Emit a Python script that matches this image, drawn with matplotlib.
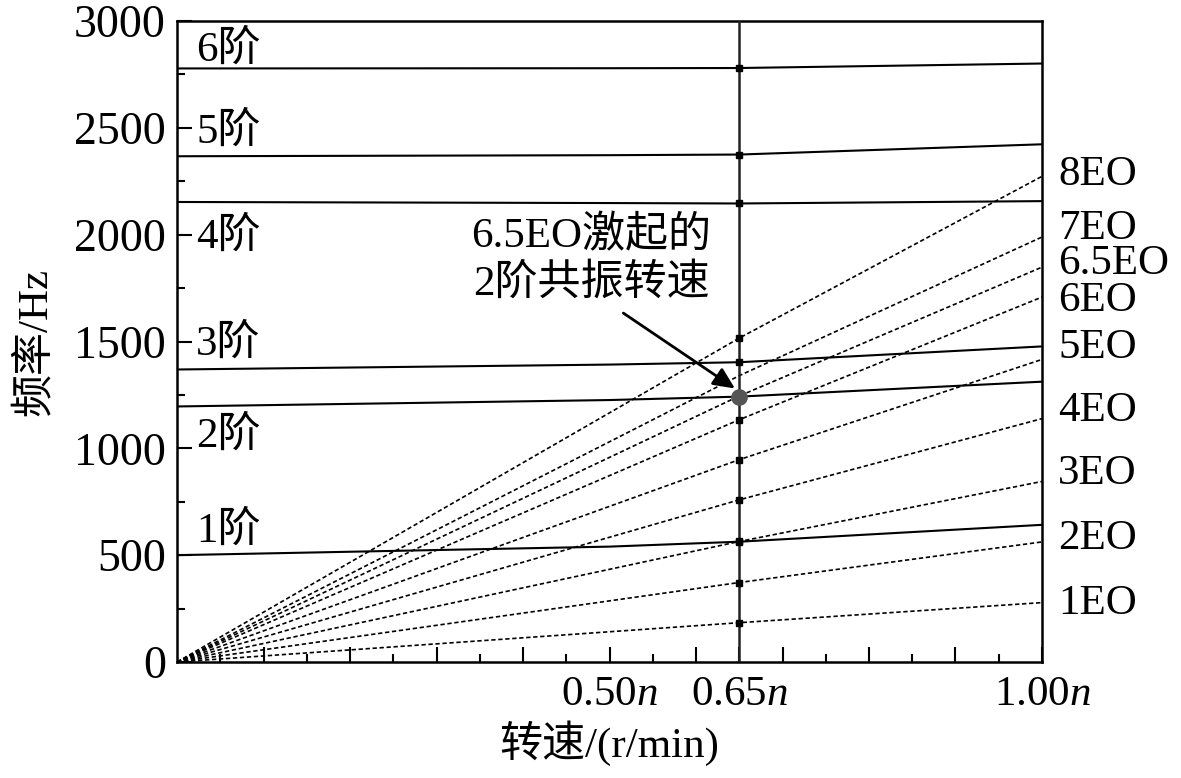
import matplotlib
matplotlib.use("Agg")
import matplotlib.pyplot as plt
import numpy as np

plt.rcParams['font.family'] = ['Liberation Serif', 'Noto Sans CJK SC']
plt.rcParams['mathtext.fontset'] = 'custom'
plt.rcParams['mathtext.rm'] = 'Liberation Serif'
plt.rcParams['mathtext.it'] = 'Liberation Serif:italic'
plt.rcParams['axes.unicode_minus'] = False

# ---------------- data ----------------
# relative speed (fraction of n) where mode frequencies were read
mode_x = [0.0, 0.5, 0.65, 1.0]
mode1 = [500, 540, 563, 642]
mode2 = [1196, 1226, 1242, 1312]
mode3 = [1369, 1392, 1403, 1477]
mode4 = [2153, 2148, 2146, 2157]
mode5 = [2367, 2372, 2375, 2423]
mode6 = [2778, 2779, 2780, 2801]
mode_labels = ['1阶', '2阶', '3阶', '4阶', '5阶', '6阶']
mode_label_y = [614, 1059, 1486, 1990, 2482, 2864]

# engine-order excitation lines
eo_x = [0.0, 0.65, 1.0]
eo_labels = ['1EO', '2EO', '3EO', '4EO', '5EO', '6EO', '6.5EO', '7EO', '8EO']
eo_f0 = [0, 0, 0, 0, 0, 0, 0, 0, 0]
eo_f065 = [184, 372, 564, 759, 947, 1134, 1245, 1340, 1516]
eo_f100 = [278, 562, 845, 1139, 1416, 1708, 1848, 1989, 2273]
eo_label_y = [272, 577, 881, 1177, 1472, 1692, 1866, 2030, 2280]
eo_marked = [True, True, True, True, True, True, False, False, True]

speed_mark = 0.65
res_x, res_f = 0.65, 1242  # 6.5EO x 2阶 resonance

xtick_major = [0.1, 0.2, 0.3, 0.4, 0.5, 0.6, 0.65, 0.7, 0.8, 0.9, 1.0]
xtick_labels = ['', '', '', '', r'0.50$\mathit{n}$', '', r'0.65$\mathit{n}$',
                '', '', '', r'1.00$\mathit{n}$']
xtick_minor = [0.05, 0.15, 0.25, 0.35, 0.45, 0.55, 0.75, 0.85, 0.95]
ytick_major = [0, 500, 1000, 1500, 2000, 2500, 3000]
ytick_minor = [250, 750, 1250, 1750, 2250, 2750]

# ---------------- figure ----------------
fig = plt.figure(figsize=(11.81, 7.78), dpi=100)
ax = fig.add_axes([0.1499, 0.1491, 0.7324, 0.8239])
FS = 31
TFS = 33

modes = [mode1, mode2, mode3, mode4, mode5, mode6]
for m in modes:
    ax.plot(mode_x, m, color='black', lw=1.5, zorder=3)

for f0, f1, f2 in zip(eo_f0, eo_f065, eo_f100):
    ax.plot(eo_x, [f0, f1, f2], color='black', lw=1.2,
            linestyle=(0, (2.6, 1.6)), zorder=2)

ax.axvline(speed_mark, color='#222222', lw=1.8, zorder=4)

# markers on the 0.65n line
for m in modes:
    if m is mode2:
        continue
    ax.plot([mode_x[2]], [m[2]], 's', color='black', ms=4.5, zorder=5)
for f1, mk in zip(eo_f065, eo_marked):
    if mk:
        ax.plot([eo_x[1]], [f1], 's', color='black', ms=5, zorder=5)
ax.plot([res_x], [res_f], 'o', color='#555555', ms=11, zorder=6)

# labels
for lab, y in zip(mode_labels, mode_label_y):
    ax.text(0.022, y, lab, fontsize=FS, ha='left', va='center', zorder=7)
for lab, y in zip(eo_labels, eo_label_y):
    ax.text(1.0185, y, lab, fontsize=FS, ha='left', va='center', clip_on=False)

ax.text(0.479, 1880, '6.5EO激起的\n2阶共振转速', fontsize=FS, ha='center',
        va='center', linespacing=1.25, zorder=7)
ax.annotate('', xy=(0.645, 1280), xytext=(0.516, 1633),
            arrowprops=dict(arrowstyle='-|>,head_length=1.3,head_width=0.6',
                            lw=2.0, color='black', shrinkA=0, shrinkB=0),
            zorder=7)

ax.set_xlim(0, 1.0)
ax.set_ylim(0, 3000)
ax.set_xticks(xtick_major)
ax.set_xticklabels(xtick_labels)
ax.set_xticks(xtick_minor, minor=True)
ax.set_yticks(ytick_major)
ax.set_yticks(ytick_minor, minor=True)
ax.tick_params(axis='both', which='major', direction='in', length=11, width=1.5,
               pad=8)
ax.tick_params(axis='y', which='major', labelsize=TFS)
ax.tick_params(axis='x', which='major', labelsize=FS, pad=10)
ax.tick_params(axis='both', which='minor', direction='in', length=5.5, width=1.5)
for s in ax.spines.values():
    s.set_linewidth(1.8)

ax.set_xlabel('转速/(r/min)', fontsize=FS, labelpad=4)
ax.set_ylabel('频率/Hz', fontsize=FS, labelpad=14)

fig.savefig('out.png', dpi=100)
